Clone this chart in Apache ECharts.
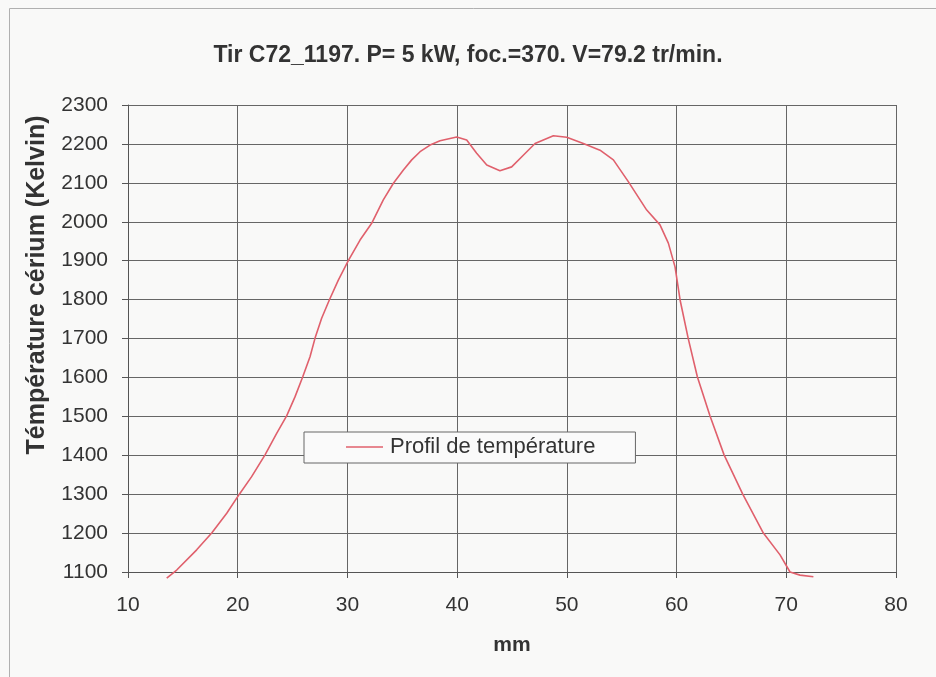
<!DOCTYPE html>
<html>
<head>
<meta charset="utf-8">
<script src="https://cdn.jsdelivr.net/npm/echarts@6/dist/echarts.min.js"></script>
<style>
html,body{margin:0;padding:0;background:#f9f9f8;}
#chart{width:936px;height:677px;}
</style>
</head>
<body>
<div id="chart"></div>
<script>
// Position along the profile (mm)
var positionsMm = [13.53, 14.44, 16.26, 17.63, 19.0, 20.15, 21.27, 22.49, 23.55, 24.46,
  25.22, 25.92, 26.59, 27.05, 27.65, 28.35, 29.17, 30.08, 31.15, 32.21,
  33.27, 34.19, 35.1, 35.86, 36.62, 37.53, 38.44, 39.96, 40.87, 41.78,
  42.7, 43.9, 44.97, 46.03, 47.1, 48.77, 49.99, 51.5, 53.02, 54.24,
  55.6, 57.28, 58.49, 59.25, 59.86, 60.32, 61.07, 61.9, 63.05, 64.33,
  66.03, 67.91, 69.43, 70.34, 71.25, 72.47];
// Cerium temperature (Kelvin)
var temperaturesK = [1084, 1105, 1157, 1200, 1251, 1300, 1345, 1401, 1456, 1501,
  1550, 1601, 1653, 1701, 1752, 1799, 1850, 1900, 1953, 1996,
  2056, 2099, 2133, 2159, 2180, 2197, 2208, 2218, 2210, 2176,
  2146, 2131, 2141, 2171, 2201, 2221, 2217, 2201, 2184, 2159,
  2103, 2030, 1992, 1945, 1884, 1799, 1699, 1601, 1501, 1401,
  1300, 1200, 1144, 1100, 1092, 1088];
var xTicks = [10, 20, 30, 40, 50, 60, 70, 80];
var yTicks = [1100, 1200, 1300, 1400, 1500, 1600, 1700, 1800, 1900, 2000, 2100, 2200, 2300];
var titleText = 'Tir C72_1197. P= 5 kW, foc.=370. V=79.2 tr/min.';
var seriesName = 'Profil de température';
var xName = 'mm';
var yName = 'Témpérature cérium (Kelvin)';

var data = positionsMm.map(function (x, i) { return [x, temperaturesK[i]]; });
var font = 'Arial, "Liberation Sans", sans-serif';
var chart = echarts.init(document.getElementById('chart'), null, {renderer: 'canvas'});
chart.setOption({
  backgroundColor: '#f9f9f8',
  animation: false,
  title: {
    text: titleText,
    left: 'center',
    top: 39,
    textStyle: {fontFamily: font, fontSize: 23, fontWeight: 'bold', color: '#333'}
  },
  graphic: [
    {type: 'rect', left: 7, top: 6, shape: {width: 1000, height: 1000}, style: {fill: null, stroke: '#b0b0b0', lineWidth: 1}, silent: true},
    {type: 'text', x: 37, y: 285, rotation: Math.PI / 2,
      style: {text: yName, fontFamily: font, fontSize: 25, fontWeight: 'bold', fill: '#333', align: 'center', verticalAlign: 'middle'}}
  ],
  legend: {
    data: [{name: seriesName, icon: 'rect'}],
    left: 304,
    top: 432,
    orient: 'horizontal',
    backgroundColor: '#fafafa',
    borderColor: '#666',
    borderWidth: 1,
    padding: [4, 40, 5, 42],
    itemWidth: 37,
    itemHeight: 1.6,
    itemGap: 5,
    textStyle: {fontFamily: font, fontSize: 22, color: '#333', padding: [0, 0, 0, 2]}
  },
  grid: {left: 128, right: 40, top: 105, bottom: 105},
  xAxis: {
    type: 'value',
    min: xTicks[0], max: xTicks[xTicks.length - 1], interval: 10,
    name: xName,
    nameLocation: 'middle',
    nameGap: 63,
    nameTextStyle: {fontFamily: font, fontSize: 21, fontWeight: 'bold', color: '#333'},
    axisLine: {show: true, lineStyle: {color: '#555', width: 1}},
    axisTick: {show: true, inside: false, length: 6, lineStyle: {color: '#555'}},
    axisLabel: {fontFamily: font, fontSize: 21, color: '#333', margin: 23},
    splitLine: {show: true, lineStyle: {color: '#666', width: 1}}
  },
  yAxis: {
    type: 'value',
    min: yTicks[0], max: yTicks[yTicks.length - 1], interval: 100,
    axisLine: {show: true, lineStyle: {color: '#555', width: 1}},
    axisTick: {show: true, inside: false, length: 6, lineStyle: {color: '#555'}},
    axisLabel: {fontFamily: font, fontSize: 21, color: '#333', margin: 20, formatter: function (v) { return String(v); }},
    splitLine: {show: true, lineStyle: {color: '#666', width: 1}}
  },
  series: [{
    name: seriesName,
    type: 'line',
    data: data,
    symbol: 'none',
    clip: false,
    lineStyle: {color: '#e0606c', width: 1.6},
    itemStyle: {color: '#e0606c'}
  }]
});
</script>
</body>
</html>
